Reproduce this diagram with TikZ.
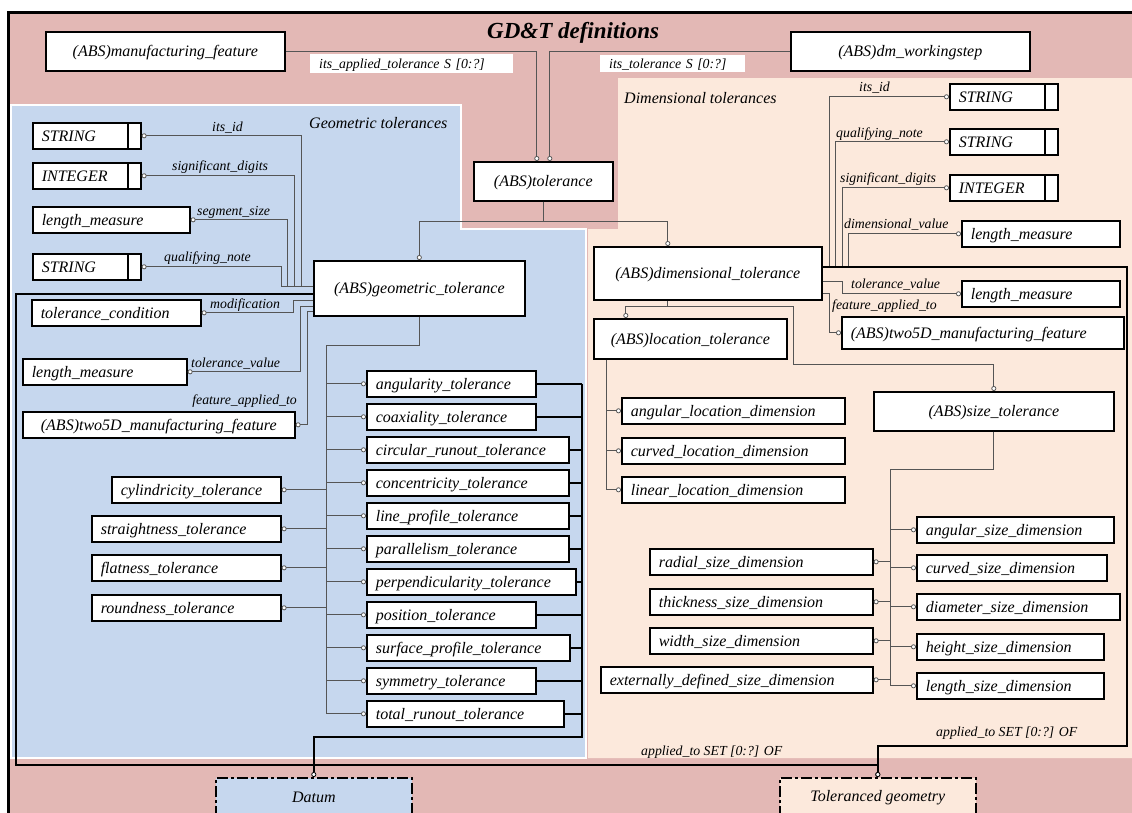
\documentclass[tikz,border=0pt]{standalone}
\usepackage{fontspec}
\setmainfont{Liberation Serif}
\usetikzlibrary{arrows.meta}

\newcommand\entfont{\fontsize{16}{18}\selectfont\itshape}
\newcommand\attfont{\fontsize{13.8}{16}\selectfont\itshape}
\newcommand\ttlfont{\fontsize{23}{26}\selectfont\bfseries\itshape}

\definecolor{bandred}{HTML}{E3B8B5}
\definecolor{geoblue}{HTML}{C6D7EE}
\definecolor{dimpeach}{HTML}{FCE9DC}
\definecolor{wire}{HTML}{555555}

\tikzset{
  ent/.style={draw=black, line width=1.6pt, fill=white, anchor=north west,
    inner sep=0pt, font=\entfont, text height=12pt, text depth=1pt, minimum height=26pt},
  ctr/.style 2 args={ent, minimum width=#1, minimum height=#2},
  lft/.style={ent, inner xsep=9pt, text width=#1, align=left},
  sbox/.style={lft=90pt, path picture={\draw[line width=1.6pt]
      ([xshift=-13pt]path picture bounding box.north east) --
      ([xshift=-13pt]path picture bounding box.south east);}},
  lbl/.style={font=\attfont, inner sep=0pt, anchor=base west},
  tag/.style={fill=white, anchor=north west, inner ysep=0pt, inner xsep=9pt,
    font=\attfont, align=left, text height=10pt, text depth=1pt},
  conn/.style={draw=wire, line width=0.9pt},
  thk/.style={draw=black, line width=2.4pt},
  cstart/.style={{Circle[fill=white,length=5pt,line width=0.8pt]}-},
  cend/.style={-{Circle[fill=white,length=5pt,line width=0.8pt]}},
  refbox/.style={draw=black, line width=1.6pt,
    dash pattern=on 11pt off 3pt on 3pt off 3pt, anchor=north west,
    minimum width=196pt, minimum height=40pt, font=\entfont},
}

\begin{document}
\begin{tikzpicture}[x=1pt,y=-1pt]
\useasboundingbox (0,0) rectangle (1132,812);
\clip (0,0) rectangle (1132,812);

% ---------- areas ----------
\fill[bandred] (8,12) rectangle (1150,830);
\fill[dimpeach]
  (618,78) -- (1150,78) -- (1150,758) -- (588,758) -- (588,229) -- (618,229) -- cycle;
\filldraw[fill=geoblue, draw=white, line width=2pt]
  (11,105) -- (461,105) -- (461,229) -- (586,229) -- (586,758) -- (11,758) -- cycle;
\draw[line width=3pt] (8,12) rectangle (1150,830);

\node[font=\ttlfont, anchor=base west, inner sep=0pt] (title) at (487,38) {GD\&T definitions};
\node[font=\entfont, anchor=base west, inner sep=0pt] (geolab) at (309,128) {Geometric tolerances};
\node[font=\entfont, anchor=base west, inner sep=0pt] (dimlab) at (624,103) {Dimensional tolerances};

% ---------- top level ----------
\node[ctr={239pt}{39pt}] (mf) at (45,31) {(ABS)manufacturing\_feature};
\node[ctr={239pt}{39pt}] (dmw) at (790,31) {(ABS)dm\_workingstep};
\node[ctr={139pt}{39pt}] (tol) at (473,161) {(ABS)tolerance};
\node[tag, minimum width=203pt, minimum height=19pt, text width=185pt] (tag1) at (310,54) {its\_applied\_tolerance S [0:?]};
\node[tag, minimum width=145pt, minimum height=17pt, text width=127pt] (tag2) at (600,55) {its\_tolerance S [0:?]};

% ---------- geometric tolerances ----------
\node[sbox] (gs1) at (32,122) {STRING};
\node[sbox] (gi) at (32,162) {INTEGER};
\node[lft=139pt] (glm1) at (32,206) {length\_measure};
\node[sbox] (gs2) at (32,253) {STRING};
\node[ctr={211pt}{55pt}] (gt) at (313,260) {(ABS)geometric\_tolerance};
\node[lft=151pt] (gtc) at (31,299) {tolerance\_condition};
\node[lft=146pt] (glm2) at (22,358) {length\_measure};
\node[ctr={272pt}{26pt}] (g25) at (22,411) {(ABS)two5D\_manufacturing\_feature};

\node[lft=151pt] (cyl) at (111,476) {cylindricity\_tolerance};
\node[lft=171pt] (str) at (91,515) {straightness\_tolerance};
\node[lft=171pt] (fla) at (91,554) {flatness\_tolerance};
\node[lft=171pt] (rou) at (91,594) {roundness\_tolerance};

\foreach \n/\w/\t [count=\i from 0] in {
  ang/151pt/angularity, coa/151pt/coaxiality, cir/184pt/circular\_runout,
  con/184pt/concentricity, lin/184pt/line\_profile, par/184pt/parallelism,
  per/191pt/perpendicularity, pos/151pt/position, sur/185pt/surface\_profile,
  sym/151pt/symmetry, tot/179pt/total\_runout}
  \node[lft=\w] (\n) at (366,370+33*\i) {\t\_tolerance};

\node[lbl] (la1) at (212,131) {its\_id};
\node[lbl] (la2) at (172,170) {significant\_digits};
\node[lbl] (la3) at (197,215) {segment\_size};
\node[lbl] (la4) at (164,261) {qualifying\_note};
\node[lbl] (la5) at (210,308) {modification};
\node[lbl] (la6) at (191,367) {tolerance\_value};
\node[lbl, anchor=base east] (la7) at (297,404) {feature\_applied\_to};

% ---------- dimensional tolerances ----------
\node[sbox] (ds1) at (949,83) {STRING};
\node[sbox] (ds2) at (949,128) {STRING};
\node[sbox] (di) at (949,174) {INTEGER};
\node[lft=140pt] (dlm1) at (961,220) {length\_measure};
\node[ctr={228pt}{53pt}] (dt) at (593,246) {(ABS)dimensional\_tolerance};
\node[lft=140pt] (dlm2) at (961,280) {length\_measure};
\node[lft=264pt, minimum height=32pt] (d25) at (841,316) {(ABS)two5D\_manufacturing\_feature};
\node[ctr={193pt}{40pt}] (loc) at (593,318) {(ABS)location\_tolerance};
\node[ctr={240pt}{39pt}] (siz) at (873,391) {(ABS)size\_tolerance};

\node[lft=205pt] (angl) at (621,397) {angular\_location\_dimension};
\node[lft=205pt] (curl) at (621,437) {curved\_location\_dimension};
\node[lft=205pt] (linl) at (621,476) {linear\_location\_dimension};

\node[lft=179pt] (angs) at (916,516) {angular\_size\_dimension};
\node[lft=172pt] (curs) at (916,554) {curved\_size\_dimension};
\node[lft=185pt] (dias) at (916,593) {diameter\_size\_dimension};
\node[lft=169pt] (heis) at (916,633) {height\_size\_dimension};
\node[lft=169pt] (lens) at (916,672) {length\_size\_dimension};
\node[lft=205pt] (rads) at (649,548) {radial\_size\_dimension};
\node[lft=205pt] (this) at (649,588) {thickness\_size\_dimension};
\node[lft=205pt] (wids) at (649,627) {width\_size\_dimension};
\node[lft=254pt] (exts) at (600,666) {externally\_defined\_size\_dimension};

\node[lbl] (lb1) at (859,91) {its\_id};
\node[lbl] (lb2) at (836,137) {qualifying\_note};
\node[lbl] (lb3) at (840,182) {significant\_digits};
\node[lbl] (lb4) at (844,228) {dimensional\_value};
\node[lbl] (lb5) at (851,288) {tolerance\_value};
\node[lbl] (lb6) at (832,309) {feature\_applied\_to};

% ---------- referenced groups ----------
\node[refbox, fill=geoblue] (datum) at (215,777) {Datum};
\node[refbox, fill=dimpeach] (tgeo) at (779,777) {Toleranced geometry};
\node[lbl] (lap1) at (641,755) {applied\_to SET [0:?] OF};
\node[lbl] (lap2) at (936,736) {applied\_to SET [0:?] OF};

% ---------- connectors: top ----------
\draw[conn,cend] (mf.east) -| ([xshift=-6.5pt]tol.north);
\draw[conn,cend] (dmw.west) -| ([xshift=6.5pt]tol.north);
\draw[conn,cend] (tol.south) -- ++(0,20) -| (gt.north);
\draw[conn,cend] (tol.south) -- ++(0,20) -| ([xshift=-40pt]dt.north);

% ---------- connectors: geometric attributes ----------
\coordinate (g1) at ([yshift=-26pt]gt.north west);
\coordinate (g2) at ([yshift=-34pt]gt.north west);
\coordinate (g3) at ([yshift=-40pt]gt.north west);
\coordinate (g4) at ([yshift=-46pt]gt.north west);
\coordinate (g5) at ([yshift=-51pt]gt.north west);
\draw[conn,cstart] (gs1.east) -| ([xshift=-12pt]g1) -- (g1);
\draw[conn,cstart] (gi.east) -| ([xshift=-19pt]g1) -- (g1);
\draw[conn,cstart] (glm1.east) -| ([xshift=-26pt]g1) -- (g1);
\draw[conn,cstart] (gs2.east) -| ([xshift=-32pt]g1) -- (g1);
\draw[conn,cstart] (gtc.east) -| ([xshift=-20pt]g3) -- (g3);
\draw[conn,cstart] (glm2.east) -| ([xshift=-13pt]g4) -- (g4);
\draw[conn,cstart] (g25.east) -| ([xshift=-6pt]g5) -- (g5);

% subtypes of geometric_tolerance
\coordinate (gbus) at (326,345);
\draw[conn] (gt.south) |- (gbus) -- (gbus |- tot.west);
\foreach \n in {ang,coa,cir,con,lin,par,per,pos,sur,sym,tot}
  \draw[conn,cend] (gbus |- \n.west) -- (\n.west);
\foreach \n in {cyl,str,fla,rou}
  \draw[conn,cend] (gbus |- \n.east) -- (\n.east);

% datum references
\coordinate (dbus) at (582,737);
\foreach \n in {ang,coa,cir,con,lin,par,per,pos,sur,sym,tot}
  \draw[thk] (\n.east) -- (dbus |- \n.east);
\draw[thk,cend] (dbus |- ang.east) -- (dbus) -| (datum.north);

% applied_to of geometric_tolerance
\coordinate (gcorner) at (16,765);
\draw[thk,cend] (g2) -| (gcorner) -| (tgeo.north);

% ---------- connectors: dimensional attributes ----------
\coordinate (d1) at ([yshift=-21pt]dt.north east);
\draw[conn,cstart] (ds1.west) -| ([xshift=7pt]d1) -- (d1);
\draw[conn,cstart] (ds2.west) -| ([xshift=13pt]d1) -- (d1);
\draw[conn,cstart] (di.west) -| ([xshift=20pt]d1) -- (d1);
\draw[conn,cstart] (dlm1.west) -| ([xshift=26pt]d1) -- (d1);
\draw[conn,cend] ([yshift=-35pt]dt.north east) -| ([xshift=-119pt]dlm2.west) -- (dlm2.west);
\draw[conn,cend] ([yshift=-47pt]dt.north east) -| ([xshift=-12pt]d25.west) -- (d25.west);

% applied_to of dimensional_tolerance
\coordinate (dcorner) at (1127,746);
\draw[thk,cend] (d1) -| (dcorner) -| (tgeo.north);

% subtypes of dimensional_tolerance
\coordinate (dj) at ([xshift=-40pt,yshift=-6pt]dt.south);
\coordinate (sj) at (793,364);
\draw[conn] ([xshift=-40pt]dt.south) -- (dj);
\draw[conn,cend] (dj) -| ([xshift=-64.5pt]loc.north);
\draw[conn,cend] (dj) -| (sj) -| (siz.north);

\coordinate (lbus) at ([xshift=13pt]loc.south west);
\draw[conn] (lbus) -- (lbus |- linl.west);
\foreach \n in {angl,curl,linl}
  \draw[conn,cend] (lbus |- \n.west) -- (\n.west);

\coordinate (sbus) at (890,469);
\draw[conn] (siz.south) |- (sbus) -- (sbus |- lens.west);
\foreach \n in {angs,curs,dias,heis,lens}
  \draw[conn,cend] (sbus |- \n.west) -- (\n.west);
\foreach \n in {rads,this,wids,exts}
  \draw[conn,cend] (sbus |- \n.east) -- (\n.east);
\end{tikzpicture}
\end{document}
